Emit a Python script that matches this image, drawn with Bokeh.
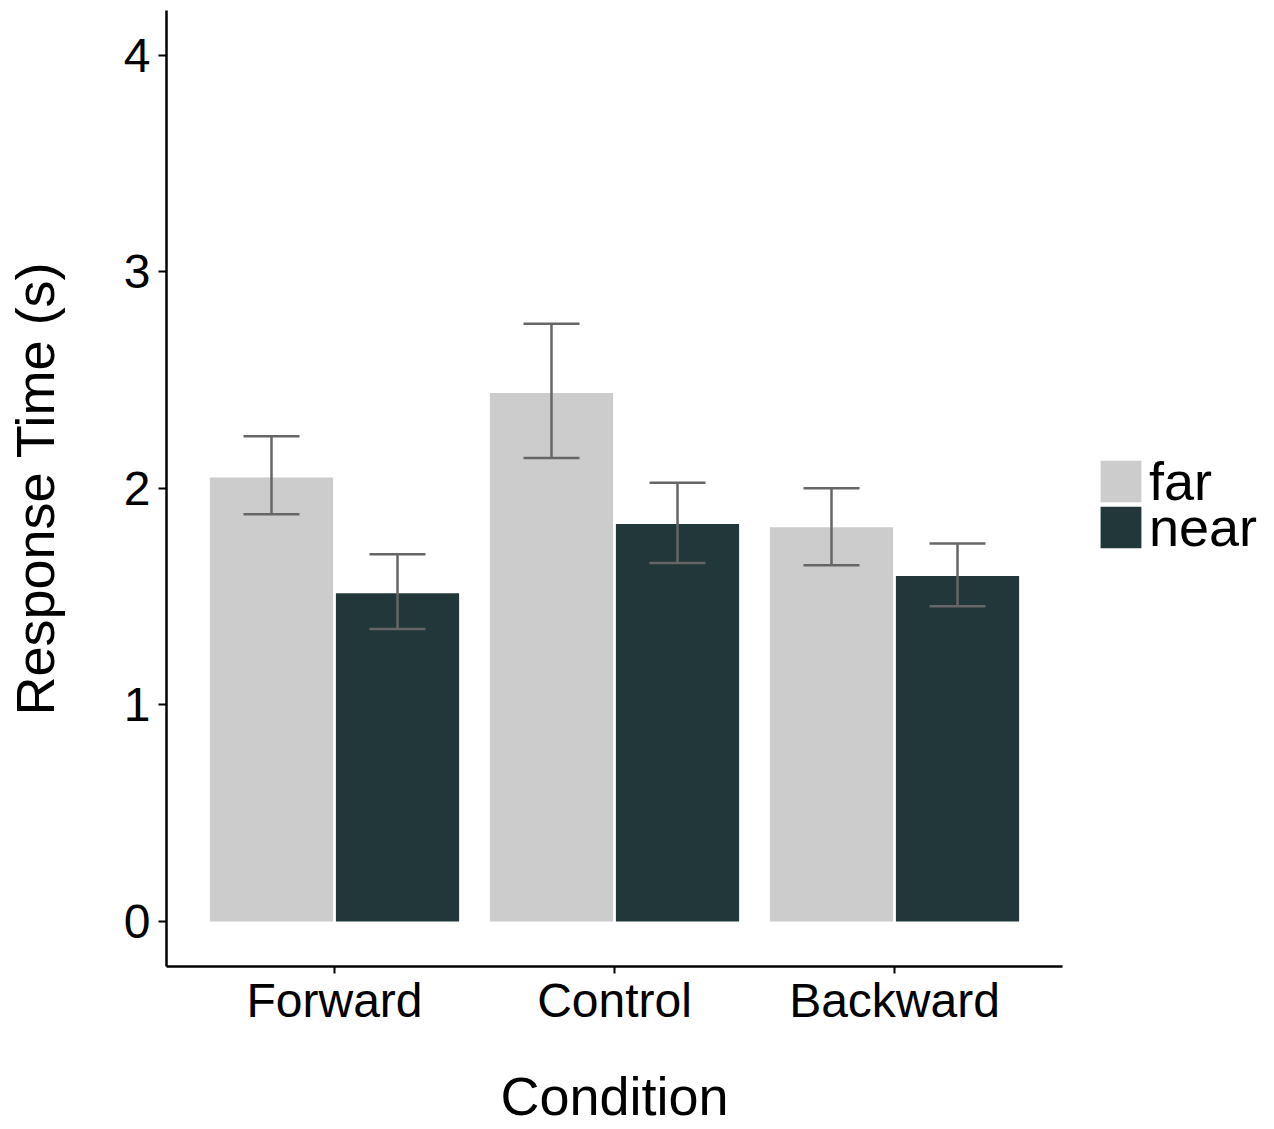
from bokeh.plotting import figure
from bokeh.layouts import row
from bokeh.models import (ColumnDataSource, Range1d, FixedTicker, Whisker,
                          TeeHead, Legend, LegendItem)
from bokeh.transform import dodge
from bokeh.embed import file_html
from bokeh.resources import INLINE

conditions = ["Forward", "Control", "Backward"]
far_mean = [2.05, 2.44, 1.82]
far_low = [1.88, 2.14, 1.645]
far_high = [2.24, 2.76, 2.0]
near_mean = [1.515, 1.835, 1.595]
near_low = [1.35, 1.655, 1.455]
near_high = [1.695, 2.025, 1.745]
y_ticks = [0, 1, 2, 3, 4]
series = ["far", "near"]

FONT = "Liberation Sans"
FAR_COLOR = "#cccccc"
NEAR_COLOR = "#22373a"
ERR_COLOR = "#666666"

# category positions on the x scale (1, 2, 3)
cat_pos = list(range(1, len(conditions) + 1))
x_lo, x_hi = 0.4, len(conditions) + 0.6   # ggplot-style discrete expansion

H = 1129
FL, FT, FR, FB = 166, 10, 1062, 966
MAIN_W = 1070
LEG_W = 200

p = figure(width=MAIN_W, height=H, output_backend="svg", toolbar_location=None,
           x_range=Range1d(x_lo, x_hi), y_range=Range1d(-0.208, 4.206),
           min_border_left=FL, min_border_top=FT, min_border_right=MAIN_W - FR,
           min_border_bottom=H - FB)

far_src = ColumnDataSource(dict(x=cat_pos, top=far_mean, lower=far_low, upper=far_high))
near_src = ColumnDataSource(dict(x=cat_pos, top=near_mean, lower=near_low, upper=near_high))

bar_specs = [(far_src, -0.225, FAR_COLOR), (near_src, 0.225, NEAR_COLOR)]
for src, off, col in bar_specs:
    p.vbar(x=dodge("x", off), top="top", bottom=0, width=0.44,
           source=src, fill_color=col, line_color=None)
    w = Whisker(base=dodge("x", off), upper="upper", lower="lower", source=src,
                line_color=ERR_COLOR, line_width=2.5, level="annotation",
                upper_head=TeeHead(size=56, line_color=ERR_COLOR, line_width=2.5),
                lower_head=TeeHead(size=56, line_color=ERR_COLOR, line_width=2.5))
    p.add_layout(w)

p.outline_line_color = None
p.xgrid.grid_line_color = None
p.ygrid.grid_line_color = None
p.background_fill_color = "white"
p.border_fill_color = "white"

p.yaxis.ticker = FixedTicker(ticks=y_ticks)
p.xaxis.ticker = FixedTicker(ticks=cat_pos)
p.xaxis.major_label_overrides = {pos: name for pos, name in zip(cat_pos, conditions)}

for ax in (p.xaxis[0], p.yaxis[0]):
    ax.axis_line_color = "black"
    ax.axis_line_width = 2.5
    ax.major_tick_line_color = "black"
    ax.major_tick_line_width = 2
    ax.major_tick_in = 0
    ax.minor_tick_line_color = None
    ax.major_label_text_font = FONT
    ax.major_label_text_font_size = "48px"
    ax.major_label_text_color = "black"
    ax.axis_label_text_font = FONT
    ax.axis_label_text_font_size = "54px"
    ax.axis_label_text_font_style = "normal"
    ax.axis_label_text_color = "black"

p.yaxis.major_tick_out = 8
p.yaxis.major_label_standoff = 8
p.yaxis.axis_label = "Response Time (s)"
p.yaxis.axis_label_standoff = 56

p.xaxis.major_tick_out = 7
p.xaxis.major_label_standoff = 0
p.xaxis.axis_label = "Condition"
p.xaxis.axis_label_standoff = 36

# legend panel to the right of the data panel
leg = figure(width=LEG_W, height=H, output_backend="svg", toolbar_location=None,
             x_axis_location=None, y_axis_location=None,
             x_range=Range1d(0, 1), y_range=Range1d(0, 1),
             min_border_left=0, min_border_right=0, min_border_top=0, min_border_bottom=0)
leg.outline_line_color = None
leg.grid.grid_line_color = None
leg.grid.visible = False
leg.background_fill_color = "white"
leg.border_fill_color = "white"

legend_y = [454, 408]   # pixel offsets of the two legend keys from the panel bottom
for (src, off, col), name, ly in zip(bar_specs, series, legend_y):
    r = leg.vbar(x=dodge("x", off), top="top", bottom=0, width=0.44, source=src,
                 fill_color=col, line_color=None, visible=False)
    lg = Legend(items=[LegendItem(label=name, renderers=[r])],
                location=(25, ly), orientation="vertical",
                glyph_width=51, glyph_height=52, label_standoff=3, spacing=0,
                padding=0, margin=0, border_line_color=None, background_fill_alpha=0,
                inactive_fill_alpha=0,
                label_text_font=FONT, label_text_font_size="54px", label_text_color="black")
    leg.add_layout(lg, "center")

layout = row(p, leg, spacing=0)
open("out.html", "w").write(file_html(layout, INLINE))
